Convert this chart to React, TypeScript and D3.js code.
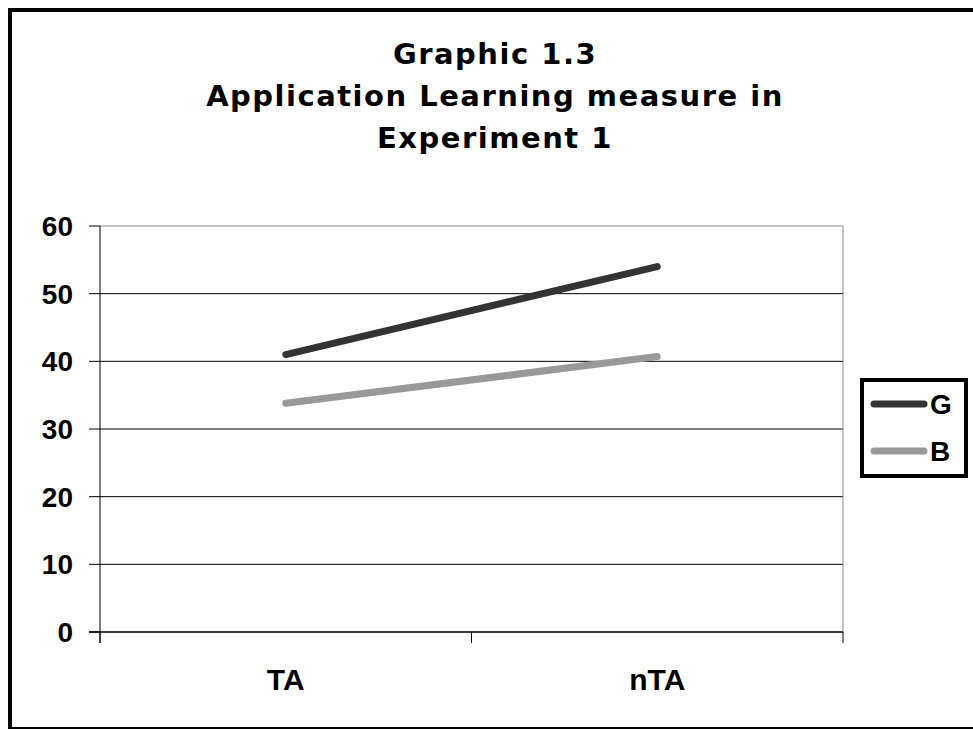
import React from "react";
import * as d3 from "d3";

// Category axis and series values
const categories = ["TA", "nTA"];
const seriesNames = ["G", "B"];
const valuesG = [41, 54];
const valuesB = [33.8, 40.7];
const yTicks = [0, 10, 20, 30, 40, 50, 60];
const titleLines = ["Graphic 1.3", "Application Learning measure in", "Experiment 1"];

const W = 973;
const H = 729;
const plot = { left: 100, right: 843, top: 226, bottom: 632 };
const seriesColors = ["#333333", "#999999"];

export default function App() {
  const x = d3
    .scaleBand<string>()
    .domain(categories)
    .range([plot.left, plot.right])
    .paddingInner(0)
    .paddingOuter(0);
  const y = d3.scaleLinear().domain([0, 60]).range([plot.bottom, plot.top]);

  const line = d3
    .line<number>()
    .x((_, i) => (x(categories[i]) as number) + x.bandwidth() / 2)
    .y((d) => y(d));

  const series = [valuesG, valuesB];
  const catBoundaries = [plot.left, ...categories.map((c) => (x(c) as number) + x.bandwidth())];

  const axisFont = "'Liberation Sans', Arial, sans-serif";
  const titleFont = "'DejaVu Sans', Verdana, sans-serif";

  return (
    <svg
      width={W}
      height={H}
      style={{ position: "absolute", left: 0, top: 0, background: "#fff" }}
    >
      {/* chart frame */}
      <rect x={10} y={10} width={1000} height={719} fill="#fff" stroke="#000" strokeWidth={4} />

      {/* title */}
      <g fontFamily={titleFont} fontWeight="bold" fontSize={29} textAnchor="middle" fill="#000">
        {titleLines.map((t, i) => (
          <text key={t} x={495} y={64 + i * 42} letterSpacing={1.5}>
            {t}
          </text>
        ))}
      </g>

      {/* gridlines */}
      {yTicks
        .filter((t) => t > 0)
        .map((t) => (
          <line
            key={t}
            x1={plot.left}
            x2={plot.right}
            y1={y(t)}
            y2={y(t)}
            stroke={t === 60 ? "#888" : "#000"}
            strokeWidth={1}
          />
        ))}
      {/* plot area right edge */}
      <line x1={plot.right} x2={plot.right} y1={plot.top} y2={plot.bottom} stroke="#888" strokeWidth={1} />

      {/* y axis */}
      <line x1={plot.left} x2={plot.left} y1={plot.top} y2={plot.bottom + 11} stroke="#000" strokeWidth={1} />
      {yTicks.map((t) => (
        <g key={t}>
          <line x1={plot.left - 11} x2={plot.left} y1={y(t)} y2={y(t)} stroke="#000" strokeWidth={1} />
          <text
            x={73}
            y={y(t)}
            dy="0.36em"
            textAnchor="end"
            fontFamily={axisFont}
            fontWeight="bold"
            fontSize={28}
            fill="#000"
          >
            {t}
          </text>
        </g>
      ))}

      {/* x axis */}
      <line x1={plot.left - 11} x2={plot.right} y1={plot.bottom} y2={plot.bottom} stroke="#000" strokeWidth={1.5} />
      {catBoundaries.map((bx, i) => (
        <line key={i} x1={bx} x2={bx} y1={plot.bottom} y2={plot.bottom + 11} stroke="#000" strokeWidth={1} />
      ))}
      {categories.map((c) => (
        <text
          key={c}
          x={(x(c) as number) + x.bandwidth() / 2}
          y={690}
          textAnchor="middle"
          fontFamily={axisFont}
          fontWeight="bold"
          fontSize={30}
          fill="#000"
        >
          {c}
        </text>
      ))}

      {/* series lines */}
      {series.map((vals, i) => (
        <path
          key={seriesNames[i]}
          d={line(vals) ?? ""}
          fill="none"
          stroke={seriesColors[i]}
          strokeWidth={7}
          strokeLinecap="round"
        />
      ))}

      {/* legend */}
      <rect x={862} y={380} width={104} height={96} fill="#fff" stroke="#000" strokeWidth={4} />
      {seriesNames.map((s, i) => {
        const ly = 404 + i * 47;
        return (
          <g key={s}>
            <line x1={874} x2={924} y1={ly} y2={ly} stroke={seriesColors[i]} strokeWidth={7} strokeLinecap="round" />
            <text
              x={930}
              y={ly}
              dy="0.36em"
              fontFamily={axisFont}
              fontWeight="bold"
              fontSize={28}
              fill="#000"
            >
              {s}
            </text>
          </g>
        );
      })}
    </svg>
  );
}
